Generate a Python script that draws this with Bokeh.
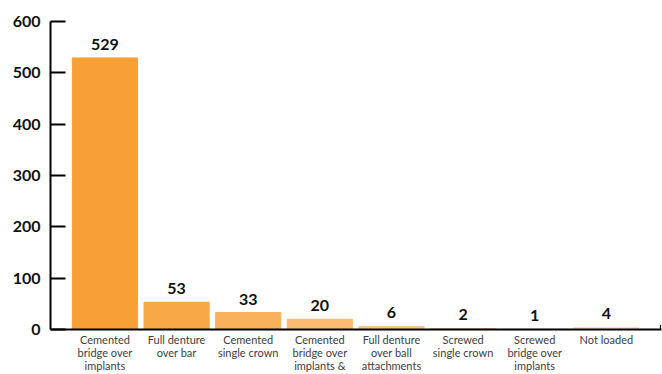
from bokeh.plotting import figure
from bokeh.models import ColumnDataSource, FixedTicker, Range1d
from bokeh.core.properties import value
from bokeh.embed import file_html
from bokeh.resources import INLINE

categories = [
    "Cemented\nbridge over\nimplants",
    "Full denture\nover bar",
    "Cemented\nsingle crown",
    "Cemented\nbridge over\nimplants &",
    "Full denture\nover ball\nattachments",
    "Screwed\nsingle crown",
    "Screwed\nbridge over\nimplants",
    "Not loaded",
]
counts = [529, 53, 33, 20, 6, 2, 1, 4]
colors = ["#F7A035", "#F8A946", "#F9B25C", "#FBBC72", "#FCC584", "#F9C486", "#E9DBC8", "#FDDDB4"]
y_ticks = [0, 100, 200, 300, 400, 500, 600]

FONT = "Lato"
xs = [i + 0.5 for i in range(len(categories))]

src = ColumnDataSource(dict(
    x=xs, top=counts, color=colors, label=[str(c) for c in counts],
))

p = figure(width=662, height=374, output_backend="svg", toolbar_location=None,
           x_range=Range1d(-0.26, 8.27), y_range=Range1d(0, 600),
           min_border_left=50, min_border_right=1, min_border_top=21, min_border_bottom=43)
p.outline_line_color = None
p.grid.grid_line_color = None
p.background_fill_color = "white"
p.border_fill_color = "white"

p.vbar(x="x", top="top", width=0.91, bottom=0, color="color", source=src)
p.text(x="x", y="top", text="label", source=src, text_align="center", text_baseline="bottom",
       y_offset=-8, text_font=value(FONT), text_font_style="bold", text_font_size="16px",
       text_color="#111111")

# y axis
ya = p.yaxis[0]
ya.ticker = FixedTicker(ticks=y_ticks)
ya.axis_line_color = "black"
ya.axis_line_width = 2
ya.major_tick_in = 15
ya.major_tick_out = 0
ya.major_tick_line_width = 2
ya.minor_tick_line_color = None
ya.major_label_text_font = FONT
ya.major_label_text_font_style = "bold"
ya.major_label_text_font_size = "16px"
ya.major_label_text_color = "#111111"
ya.major_label_standoff = 10

# x axis
xa = p.xaxis[0]
xa.ticker = FixedTicker(ticks=xs)
xa.major_label_overrides = {x: c for x, c in zip(xs, categories)}
xa.axis_line_color = "black"
xa.axis_line_width = 2
xa.major_tick_line_color = None
xa.major_tick_out = 0
xa.major_tick_in = 0
xa.minor_tick_line_color = None
xa.minor_tick_out = 0
xa.minor_tick_in = 0
xa.major_label_text_font = FONT
xa.major_label_text_font_size = "11px"
xa.major_label_text_color = "#404040"
xa.major_label_text_line_height = 1.0
xa.major_label_standoff = 3

# small end tick at the right end of the x axis
p.segment(x0=[8.255], y0=[0], x1=[8.255], y1=[9], line_color="black", line_width=1)

open("out.html", "w").write(file_html(p, INLINE))
